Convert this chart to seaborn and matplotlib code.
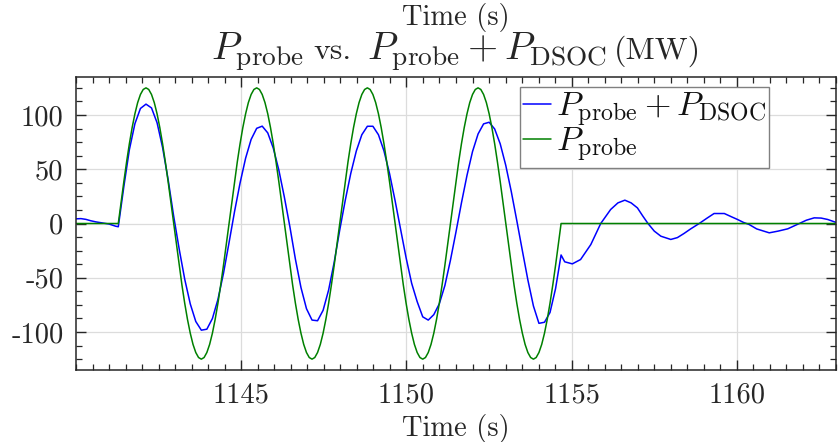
import numpy as np
import pandas as pd
import matplotlib
matplotlib.use("Agg")
import matplotlib.pyplot as plt
from matplotlib.ticker import MultipleLocator
import seaborn as sns

# ---------------- data ----------------
# P_probe (MW): fine time grid during the 4 oscillation periods
probe_t = [1140.000,
           1141.280, 1141.364, 1141.448, 1141.531, 1141.615, 1141.699, 1141.783, 1141.866, 1141.950, 1142.034,
           1142.118, 1142.201, 1142.285, 1142.369, 1142.453, 1142.536, 1142.620, 1142.704, 1142.788, 1142.871,
           1142.955, 1143.039, 1143.123, 1143.206, 1143.290, 1143.374, 1143.458, 1143.541, 1143.625, 1143.709,
           1143.793, 1143.876, 1143.960, 1144.044, 1144.128, 1144.211, 1144.295, 1144.379, 1144.463, 1144.546,
           1144.630, 1144.714, 1144.798, 1144.881, 1144.965, 1145.049, 1145.133, 1145.216, 1145.300, 1145.384,
           1145.468, 1145.551, 1145.635, 1145.719, 1145.803, 1145.886, 1145.970, 1146.054, 1146.138, 1146.221,
           1146.305, 1146.389, 1146.473, 1146.556, 1146.640, 1146.724, 1146.808, 1146.891, 1146.975, 1147.059,
           1147.143, 1147.226, 1147.310, 1147.394, 1147.478, 1147.561, 1147.645, 1147.729, 1147.813, 1147.896,
           1147.980, 1148.064, 1148.148, 1148.231, 1148.315, 1148.399, 1148.483, 1148.566, 1148.650, 1148.734,
           1148.818, 1148.901, 1148.985, 1149.069, 1149.153, 1149.236, 1149.320, 1149.404, 1149.488, 1149.571,
           1149.655, 1149.739, 1149.823, 1149.906, 1149.990, 1150.074, 1150.158, 1150.241, 1150.325, 1150.409,
           1150.493, 1150.576, 1150.660, 1150.744, 1150.828, 1150.911, 1150.995, 1151.079, 1151.163, 1151.246,
           1151.330, 1151.414, 1151.498, 1151.581, 1151.665, 1151.749, 1151.833, 1151.916, 1152.000, 1152.084,
           1152.168, 1152.251, 1152.335, 1152.419, 1152.503, 1152.586, 1152.670, 1152.754, 1152.838, 1152.921,
           1153.005, 1153.089, 1153.173, 1153.256, 1153.340, 1153.424, 1153.508, 1153.591, 1153.675, 1153.759,
           1153.843, 1153.926, 1154.010, 1154.094, 1154.178, 1154.261, 1154.345, 1154.429, 1154.513, 1154.596,
           1154.680,
           1163.000]
probe_v = [0.0,
           0.0, 19.6, 38.6, 56.7, 73.5, 88.4, 101.1, 111.4, 118.9, 123.5,
           125.0, 123.5, 118.9, 111.4, 101.1, 88.4, 73.5, 56.7, 38.6, 19.6,
           0.0, -19.6, -38.6, -56.7, -73.5, -88.4, -101.1, -111.4, -118.9, -123.5,
           -125.0, -123.5, -118.9, -111.4, -101.1, -88.4, -73.5, -56.7, -38.6, -19.6,
           0.0, 19.6, 38.6, 56.7, 73.5, 88.4, 101.1, 111.4, 118.9, 123.5,
           125.0, 123.5, 118.9, 111.4, 101.1, 88.4, 73.5, 56.7, 38.6, 19.6,
           0.0, -19.6, -38.6, -56.7, -73.5, -88.4, -101.1, -111.4, -118.9, -123.5,
           -125.0, -123.5, -118.9, -111.4, -101.1, -88.4, -73.5, -56.7, -38.6, -19.6,
           0.0, 19.6, 38.6, 56.7, 73.5, 88.4, 101.1, 111.4, 118.9, 123.5,
           125.0, 123.5, 118.9, 111.4, 101.1, 88.4, 73.5, 56.7, 38.6, 19.6,
           0.0, -19.6, -38.6, -56.7, -73.5, -88.4, -101.1, -111.4, -118.9, -123.5,
           -125.0, -123.5, -118.9, -111.4, -101.1, -88.4, -73.5, -56.7, -38.6, -19.6,
           0.0, 19.6, 38.6, 56.7, 73.5, 88.4, 101.1, 111.4, 118.9, 123.5,
           125.0, 123.5, 118.9, 111.4, 101.1, 88.4, 73.5, 56.7, 38.6, 19.6,
           0.0, -19.6, -38.6, -56.7, -73.5, -88.4, -101.1, -111.4, -118.9, -123.5,
           -125.0, -123.5, -118.9, -111.4, -101.1, -88.4, -73.5, -56.7, -38.6, -19.6,
           0.0,
           0.0]

# P_probe + P_DSOC (MW)
sum_t = [1140.00, 1140.15, 1140.30, 1140.45, 1140.60, 1140.80, 1141.00, 1141.20,
         1141.280, 1141.448, 1141.615, 1141.783, 1141.950, 1142.118, 1142.285, 1142.453, 1142.620, 1142.788,
         1142.955, 1143.123, 1143.290, 1143.458, 1143.625, 1143.793, 1143.960, 1144.128, 1144.295, 1144.463,
         1144.630, 1144.798, 1144.965, 1145.133, 1145.300, 1145.468, 1145.635, 1145.803, 1145.970, 1146.138,
         1146.305, 1146.473, 1146.640, 1146.808, 1146.975, 1147.143, 1147.310, 1147.478, 1147.645, 1147.813,
         1147.980, 1148.148, 1148.315, 1148.483, 1148.650, 1148.818, 1148.985, 1149.153, 1149.320, 1149.488,
         1149.655, 1149.823, 1149.990, 1150.158, 1150.325, 1150.493, 1150.660, 1150.828, 1150.995, 1151.163,
         1151.330, 1151.498, 1151.665, 1151.833, 1152.000, 1152.168, 1152.335, 1152.503, 1152.670, 1152.838,
         1153.005, 1153.173, 1153.340, 1153.508, 1153.675, 1153.843, 1154.010, 1154.178, 1154.345, 1154.513,
         1154.680,
         1154.79, 1155.02, 1155.27, 1155.58, 1155.88, 1156.18, 1156.40, 1156.61, 1156.80, 1156.99,
         1157.15, 1157.31, 1157.50, 1157.70, 1158.00, 1158.20, 1158.40, 1158.60, 1158.86, 1159.10,
         1159.31, 1159.62, 1159.85, 1160.02, 1160.20, 1160.37, 1160.60, 1160.98, 1161.25, 1161.54,
         1161.89, 1162.10, 1162.34, 1162.55, 1162.75, 1163.00]
sum_v = [4.3, 4.5, 3.8, 2.5, 1.5, 0.5, -0.5, -2.5,
         -3.0, 34.0, 68.0, 92.0, 106.0, 110.0, 106.5, 92.9, 70.1, 40.5,
         6.9, -23.6, -51.3, -74.1, -90.3, -98.3, -97.4, -87.6, -70.0, -46.0,
         -17.9, 11.0, 37.3, 60.2, 77.5, 87.7, 89.7, 83.5, 69.5, 49.3,
         24.4, -3.0, -32.9, -59.0, -78.5, -89.0, -89.6, -80.0, -61.3, -35.8,
         -6.2, 21.3, 46.1, 66.8, 81.8, 89.6, 89.6, 81.8, 66.9, 46.1,
         21.3, -5.3, -31.6, -55.1, -72.0, -86.0, -89.0, -84.0, -74.0, -57.2,
         -34.1, -8.0, 19.0, 44.4, 66.3, 82.5, 91.8, 93.3, 87.1, 73.4,
         53.7, 29.4, 2.6, -25.0, -52.0, -76.0, -92.0, -91.0, -82.0, -60.0,
         -29.0,
         -35.3, -37.2, -33.2, -19.4, 0.0, 12.9, 19.0, 21.5, 19.0, 14.4,
         7.0, 0.0, -7.0, -11.7, -14.7, -13.0, -9.2, -5.0, 0.0, 5.0,
         9.2, 9.2, 6.0, 3.7, 1.0, -0.9, -5.0, -8.6, -7.0, -4.9,
         0.0, 3.0, 5.2, 5.0, 3.7, 1.0]

label_sum = r"$P_{\mathrm{probe}} + P_{\mathrm{DSOC}}$"
label_probe = r"$P_{\mathrm{probe}}$"
title_line1 = "Time (s)"
title_line2 = [(r"$P_{\mathrm{probe}}$", "math"), ("vs.", "text"),
               (r"$P_{\mathrm{probe}} + P_{\mathrm{DSOC}}$", "math"), ("(MW)", "text")]
xlabel_text = "Time (s)"
x_ticks = [1145, 1150, 1155, 1160]
y_ticks = [-100, -50, 0, 50, 100]

# ---------------- frames ----------------
df_sum = pd.DataFrame({"t": sum_t, "v": sum_v})
df_probe = pd.DataFrame({"t": probe_t, "v": probe_v})

# ---------------- style ----------------
sns.set_theme(style="ticks")
plt.rcParams["font.family"] = "serif"
plt.rcParams["font.serif"] = ["cmr10"]
plt.rcParams["mathtext.fontset"] = "cm"
plt.rcParams["axes.unicode_minus"] = False
plt.rcParams["axes.formatter.use_mathtext"] = False

FS = 20.5      # axis text size
FSM = 24.5     # legend math size
FST = 28.0     # title math size
FSTT = 23.0    # title plain-text size
TXT = "#262626"
W, H = 838, 442

fig = plt.figure(figsize=(W / 100, H / 100), dpi=100)
ax = fig.add_axes([76 / W, 72 / H, 760 / W, 293 / H])

sns.lineplot(data=df_sum, x="t", y="v", ax=ax, color="#0000ff", linewidth=1.1,
             sort=False, estimator=None, label=label_sum)
sns.lineplot(data=df_probe, x="t", y="v", ax=ax, color="#008000", linewidth=1.1,
             sort=False, estimator=None, label=label_probe)

ax.set_xlim(1140.0, 1163.0)
ax.set_ylim(-135, 135)
ax.set_xticks(x_ticks)
ax.set_yticks(y_ticks)
ax.xaxis.set_minor_locator(MultipleLocator(0.5))
ax.yaxis.set_minor_locator(MultipleLocator(12.5))
ax.tick_params(which="both", direction="in", top=True, right=True, colors=TXT,
               labelsize=FS, labelcolor=TXT)
ax.tick_params(which="major", length=7, width=1.0, pad=9)
ax.tick_params(which="minor", length=4, width=0.9)
ax.grid(True, which="major", color="#dcdcdc", linewidth=0.9)
for s in ax.spines.values():
    s.set_color(TXT)
    s.set_linewidth(1.1)

ax.set_xlabel(xlabel_text, fontsize=FS, color=TXT, labelpad=4)
ax.set_ylabel("")

# ---- two-line title, built from pieces so the maths can be larger ----
fig.text(456 / W, 1 - 25 / H, title_line1, fontsize=FS, color=TXT,
         ha="center", va="baseline")
fig.canvas.draw()
renderer = fig.canvas.get_renderer()
gaps = [10, 16, 7]
pieces = []
for s, kind in title_line2:
    t = fig.text(0, 1 - 59 / H, s, fontsize=FST if kind == "math" else FSTT,
                 color=TXT, ha="left", va="baseline")
    pieces.append(t)
widths = [p.get_window_extent(renderer).width for p in pieces]
total = sum(widths) + sum(gaps)
x = 456 - total / 2
for i, (p, w) in enumerate(zip(pieces, widths)):
    p.set_x(x / W)
    x += w + (gaps[i] if i < len(gaps) else 0)

leg = ax.legend(loc="upper left", bbox_to_anchor=((520 - 76) / 760, (370 - 87) / 293),
                borderaxespad=0, fontsize=FSM, frameon=True, fancybox=False,
                framealpha=1, edgecolor="#808080", handlelength=0.8, handletextpad=0.15,
                borderpad=0.1, labelspacing=-0.1)
leg.get_frame().set_linewidth(1.0)
for t in leg.get_texts():
    t.set_color("#111111")

fig.savefig("out.png", dpi=100)
